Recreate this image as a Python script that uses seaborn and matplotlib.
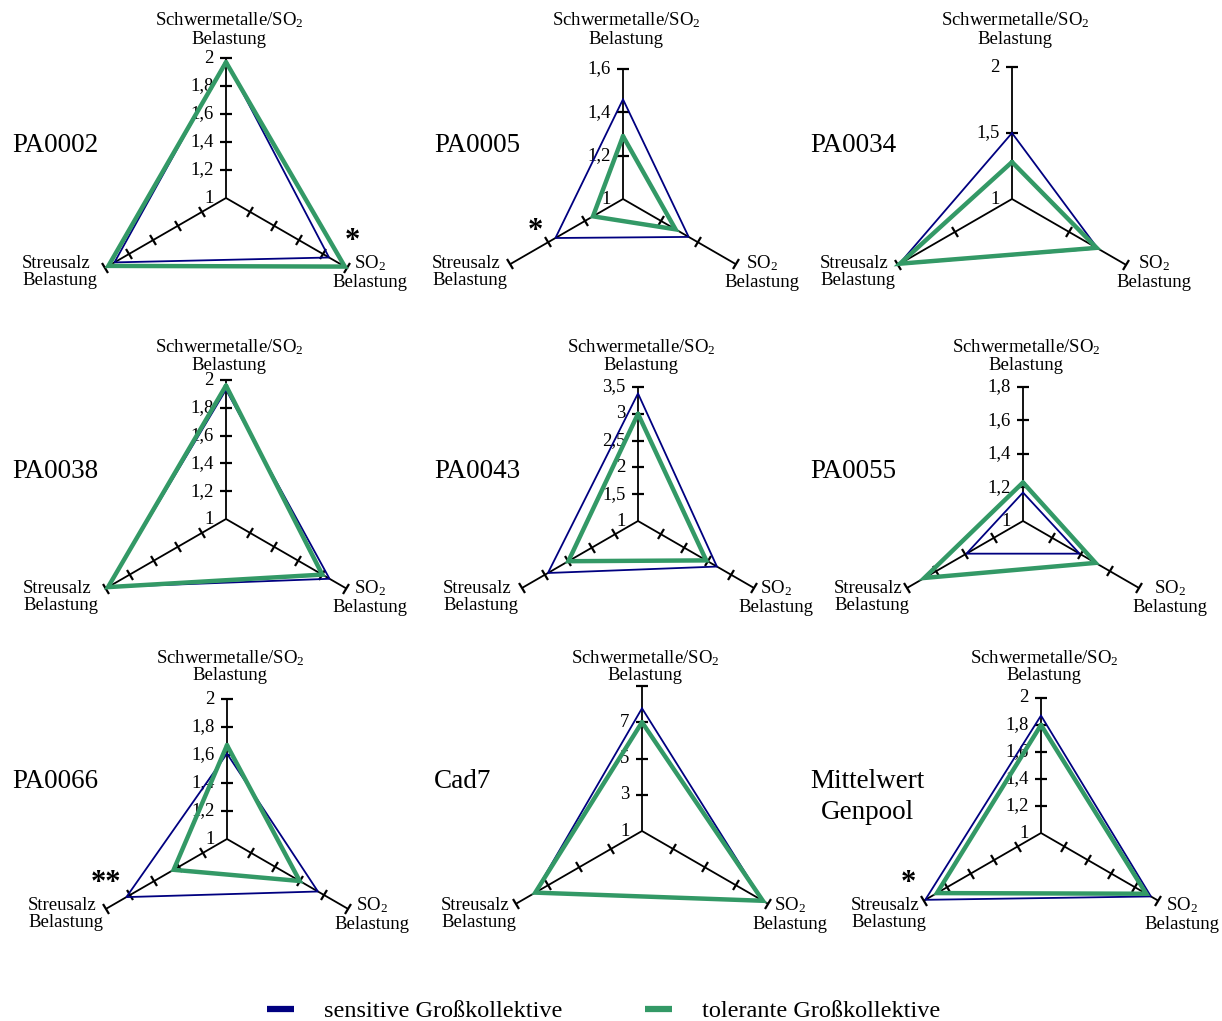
import numpy as np
import matplotlib
matplotlib.use('Agg')
import matplotlib.pyplot as plt
from matplotlib.markers import MarkerStyle
from matplotlib.transforms import Affine2D
from matplotlib.lines import Line2D
import seaborn as sns

# ---------------- data ----------------
panel_names = ['PA0002', 'PA0005', 'PA0034',
               'PA0038', 'PA0043', 'PA0055',
               'PA0066', 'Cad7', 'Mittelwert\nGenpool']
axis_names = ['Schwermetalle/SO$_2$\nBelastung', 'Streusalz\nBelastung', 'SO$_2$\nBelastung']
axis_angles = [90, 210, 330]
axis_max = [2, 1.6, 2, 2, 3.5, 1.8, 2, 9, 2]
tick_values = [
    [1, 1.2, 1.4, 1.6, 1.8, 2],
    [1, 1.2, 1.4, 1.6],
    [1, 1.5, 2],
    [1, 1.2, 1.4, 1.6, 1.8, 2],
    [1, 1.5, 2, 2.5, 3, 3.5],
    [1, 1.2, 1.4, 1.6, 1.8],
    [1, 1.2, 1.4, 1.6, 1.8, 2],
    [1, 3, 5, 7, 9],
    [1, 1.2, 1.4, 1.6, 1.8, 2],
]
tick_labels = [
    ['1', '1,2', '1,4', '1,6', '1,8', '2'],
    ['1', '1,2', '1,4', '1,6'],
    ['1', '1,5', '2'],
    ['1', '1,2', '1,4', '1,6', '1,8', '2'],
    ['1', '1,5', '2', '2,5', '3', '3,5'],
    ['1', '1,2', '1,4', '1,6', '1,8'],
    ['1', '1,2', '1,4', '1,6', '1,8', '2'],
    ['1', '3', '5', '7', ''],
    ['1', '1,2', '1,4', '1,6', '1,8', '2'],
]
# values per panel: [Schwermetalle/SO2, Streusalz, SO2]
sensitive = [
    [1.98, 1.92, 1.85],
    [1.46, 1.36, 1.35],
    [1.50, 1.99, 1.75],
    [1.93, 1.98, 1.86],
    [3.38, 2.94, 2.70],
    [1.17, 1.39, 1.39],
    [1.61, 1.83, 1.75],
    [7.77, 7.83, 8.70],
    [1.87, 1.99, 1.94],
]
tolerant = [
    [1.97, 1.97, 1.98],
    [1.29, 1.16, 1.28],
    [1.28, 1.98, 1.74],
    [1.96, 1.98, 1.80],
    [3.00, 2.50, 2.47],
    [1.23, 1.68, 1.50],
    [1.67, 1.44, 1.60],
    [7.00, 7.80, 8.70],
    [1.80, 1.89, 1.90],
]
series_names = ['sensitive Großkollektive', 'tolerante Großkollektive']
significance = ['*', '*', '**', '*']

# ---------------- style / layout ----------------
BLUE = '#000080'
GREEN = '#339966'
W, H = 1222, 1021

sns.set_theme(style='white')
plt.rcParams['font.family'] = ['Liberation Serif', 'DejaVu Serif']
plt.rcParams['mathtext.fontset'] = 'custom'
plt.rcParams['mathtext.rm'] = 'Liberation Serif'
plt.rcParams['mathtext.it'] = 'Liberation Serif:italic'
plt.rcParams['mathtext.bf'] = 'Liberation Serif:bold'
plt.rcParams['text.color'] = 'black'

# panel centre (px) and radius (px)
centres = [(226, 198, 140), (623, 199, 130), (1012, 199, 132),
           (226, 519, 139), (638, 521, 134), (1023, 521, 134),
           (227, 839, 140), (642, 831, 145), (1041, 833, 135)]
row_of = [0, 0, 0, 1, 1, 1, 2, 2, 2]
top_line1_y = [20, 347, 658]
top_line2_y = [41, 367, 677]
lower_label_y = [272, 597, 914]
left_label_x = [22, 432, 820, 23, 443, 834, 28, 441, 851]
right_label_cx = [370, 762, 1154, 370, 776, 1170, 372, 790, 1182]
title_pos = [(12, 145), (434, 145), (810, 145),
             (12, 471), (434, 471), (810, 471),
             (12, 781), (434, 781), (810, 797)]
sig_pos = [(352, 236), (535, 226), (106, 878), (908, 878)]

fig = plt.figure(figsize=(W / 100, H / 100), dpi=100)

def fx(x):
    return x / W

def fy(y):
    return 1 - y / H

theta = np.deg2rad(axis_angles)
theta_closed = np.append(theta, theta[0])
tick_rot = [0, 120, 60]

for i in range(9):
    cx, cy, R = centres[i]
    ax = fig.add_axes([(cx - R) / W, 1 - (cy + R) / H, 2 * R / W, 2 * R / H],
                      projection='polar')
    ax.patch.set_alpha(0)
    ax.spines['polar'].set_visible(False)
    ax.grid(False)
    ax.set_ylim(1, axis_max[i])

    # spokes with ticks
    tv = [t for t in tick_values[i] if t > 1]
    for th, rot in zip(theta, tick_rot):
        ax.plot([th, th], [1, axis_max[i]], color='black', lw=1.3,
                clip_on=False, solid_capstyle='butt', zorder=2)
        ax.plot([th] * len(tv), tv, ls='none',
                marker=MarkerStyle('_', transform=Affine2D().rotate_deg(rot)),
                ms=8, mew=1.6, color='black', clip_on=False, zorder=2)
    for t, lab in zip(tick_values[i], tick_labels[i]):
        ax.annotate(lab, xy=(np.pi / 2, t), xytext=(-9, 0),
                    textcoords='offset points', ha='right', va='center',
                    fontsize=13.5, color='black', annotation_clip=False)

    s = np.append(sensitive[i], sensitive[i][0])
    g = np.append(tolerant[i], tolerant[i][0])
    sns.lineplot(x=theta_closed, y=s, sort=False, estimator=None, ax=ax,
                 color=BLUE, lw=1.3, legend=False, clip_on=False, zorder=3,
                 solid_joinstyle='miter')
    sns.lineplot(x=theta_closed, y=g, sort=False, estimator=None, ax=ax,
                 color=GREEN, lw=3.2, legend=False, clip_on=False, zorder=4,
                 solid_joinstyle='miter')

    ax.set_xlim(0, 2 * np.pi)
    ax.set_ylim(1, axis_max[i])
    ax.set_xticks([])
    ax.set_yticks([])
    ax.set_xlabel('')
    ax.set_ylabel('')

    r = row_of[i]
    top1, top2 = axis_names[0].split('\n')
    fig.text(fx(cx + 3), fy(top_line1_y[r]), top1, ha='center', va='center', fontsize=13.5)
    fig.text(fx(cx + 3), fy(top_line2_y[r] - 1), top2, ha='center', va='center', fontsize=13.5)
    fig.text(fx(left_label_x[i]), fy(lower_label_y[r]), axis_names[1], ha='left',
             va='center', fontsize=13.5, linespacing=1.05)
    fig.text(fx(right_label_cx[i]), fy(lower_label_y[r]), axis_names[2], ha='center',
             va='center', fontsize=13.5, linespacing=1.05)

    tx, ty = title_pos[i]
    fig.text(fx(tx), fy(ty), panel_names[i], ha='left', va='center',
             fontsize=19.5, multialignment='center', linespacing=1.3)

for (sx, sy), sym in zip(sig_pos, significance):
    fig.text(fx(sx), fy(sy + 13), sym, ha='center', va='baseline',
             fontsize=22, fontweight='bold')

handles = [Line2D([], [], color=BLUE, lw=4.5, solid_capstyle='butt'),
           Line2D([], [], color=GREEN, lw=4.5, solid_capstyle='butt')]
fig.legend(handles, series_names, loc='center', bbox_to_anchor=(fx(604), fy(1011)),
           ncol=2, frameon=False, fontsize=17.5, handlelength=1.1,
           handletextpad=1.25, columnspacing=3.4, borderpad=0, borderaxespad=0)

fig.savefig('out.png', dpi=100)
